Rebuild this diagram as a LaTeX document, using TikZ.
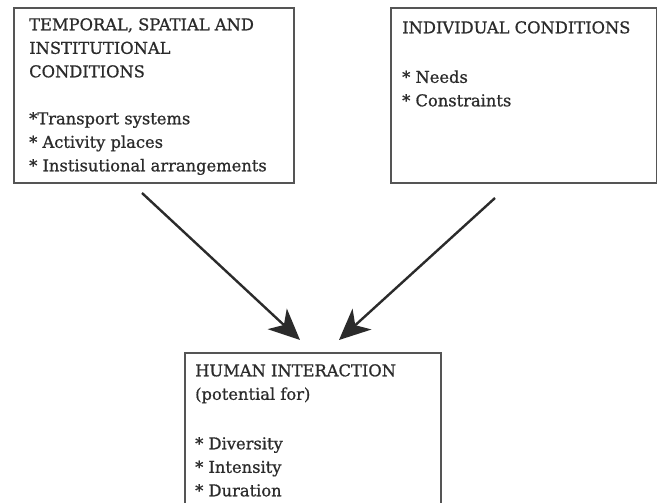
\documentclass[tikz,border=0pt]{standalone}
\usepackage{fontspec}
\setmainfont{DejaVu Serif}[FakeBold=0.8]
\usetikzlibrary{arrows.meta,positioning}
\definecolor{ink}{HTML}{2B2B2B}
\definecolor{frame}{HTML}{555555}
\tikzset{
  box/.style={draw=frame, line width=1.6pt, rectangle, inner sep=0pt, anchor=north west},
  label/.style={anchor=north west, inner sep=0pt, align=left, text=ink,
    font=\fontsize{16.3}{23.5}\selectfont},
  flow/.style={draw=ink, line width=2.4pt,
    -{Stealth[length=31pt,width=28pt,inset=9pt]}}
}
\begin{document}
\begin{tikzpicture}[x=1pt,y=-1pt]
  \clip (0,0) rectangle (657,503);
  \fill[white] (0,0) rectangle (657,503);

  % boxes
  \node[box, minimum width=280pt, minimum height=175pt] (ctx) at (13,7) {};
  \node[box, minimum width=266pt, minimum height=175pt] (ind) at (390,7) {};
  \node[box, minimum width=256pt, minimum height=170pt] (hum) at (184,352) {};

  % box texts
  \node[label] (ctxt) at (29,18) {TEMPORAL, SPATIAL AND\\INSTITUTIONAL\\CONDITIONS\\[23.5pt]*Transport systems\\* Activity places\\* Instisutional arrangements};
  \node[label] (indt) at (402,21) {INDIVIDUAL CONDITIONS\\[26pt]* Needs\\* Constraints};
  \node[label] (humt) at (195,364) {HUMAN INTERACTION\\(potential for)\\[26pt]* Diversity\\* Intensity\\* Duration};

  % arrows
  \coordinate (a1s) at (142,193);
  \coordinate (a1e) at (300,340);
  \coordinate (a2s) at (495,198);
  \coordinate (a2e) at (339,340);
  \draw[flow] (a1s) -- (a1e);
  \draw[flow] (a2s) -- (a2e);
\end{tikzpicture}
\end{document}
